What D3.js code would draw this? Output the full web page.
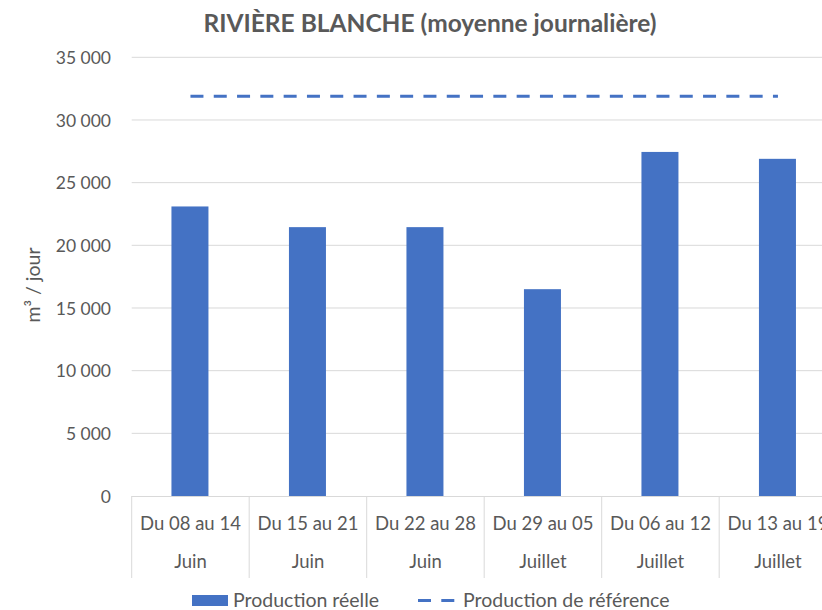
<!DOCTYPE html>
<html><head><meta charset="utf-8">
<script src="https://cdn.jsdelivr.net/npm/d3@7"></script>
<style>body{margin:0;background:#fff}svg{display:block}text{font-family:Lato,"Open Sans",sans-serif;fill:#595959}</style>
</head><body><svg id="c" width="822" height="610"></svg>
<script>
const periods = ["Du 08 au 14","Du 15 au 21","Du 22 au 28","Du 29 au 05","Du 06 au 12","Du 13 au 19"];
const months = ["Juin","Juin","Juin","Juillet","Juillet","Juillet"];
const reelle = [23100, 21450, 21450, 16500, 27450, 26900];
const reference = [31900, 31900, 31900, 31900, 31900, 31900];
const yTicks = [0,5000,10000,15000,20000,25000,30000,35000];
const title = "RIVIÈRE BLANCHE (moyenne journalière)";
const yTitle = "m³ / jour";
const legendLabels = ["Production réelle","Production de référence"];

(function(){
const svg = d3.select("#c");
const left = 131.7, bandW = 117.5, plotTop = 57.3, bottom = 496;
const x = d3.scaleBand().domain(d3.range(periods.length)).range([left, left + bandW*periods.length]).paddingInner(0).paddingOuter(0);
const y = d3.scaleLinear().domain([0,35000]).range([bottom, plotTop]);
const fmt = v => d3.format(",")(v).replace(/,/g, " ");
const blue = "#4472C4";

svg.append("g").selectAll("line").data(yTicks.filter(d=>d>0)).join("line")
  .attr("x1", left).attr("x2", 822).attr("y1", d=>y(d)).attr("y2", d=>y(d))
  .attr("stroke", "#d9d9d9").attr("stroke-width", 1);

const yAxis = d3.axisLeft(y).tickValues(yTicks).tickFormat(fmt).tickSize(0).tickPadding(0);
const ya = svg.append("g").attr("transform", `translate(111,0)`).call(yAxis);
ya.select(".domain").remove();
ya.selectAll("text").attr("font-size", 17.5).attr("fill", "#595959").style("font-family","Lato").attr("dy","0.36em");

const barW = 37;
svg.append("g").selectAll("rect").data(reelle).join("rect")
  .attr("x", (d,i)=> x(i) + bandW/2 - barW/2 - 0.5).attr("width", barW)
  .attr("y", d=>y(d)).attr("height", d=>bottom - y(d)).attr("fill", blue);

svg.append("line").attr("x1", left).attr("x2", 822).attr("y1", bottom+0.5).attr("y2", bottom+0.5).attr("stroke","#d9d9d9");
svg.append("g").selectAll("line").data(d3.range(periods.length+1)).join("line")
  .attr("x1", i=>left + i*bandW).attr("x2", i=>left + i*bandW)
  .attr("y1", bottom).attr("y2", 578).attr("stroke", "#d9d9d9");
const cat = svg.append("g");
cat.selectAll("text.p").data(periods).join("text").attr("class","p")
  .attr("x", (d,i)=>x(i)+bandW/2).attr("y", 530).attr("text-anchor","middle").attr("font-size",18.5).text(d=>d);
cat.selectAll("text.m").data(months).join("text").attr("class","m")
  .attr("x", (d,i)=>x(i)+bandW/2).attr("y", 568).attr("text-anchor","middle").attr("font-size",18.5).text(d=>d);

const line = d3.line().x((d,i)=>x(i)+bandW/2).y(d=>y(d));
svg.append("path").datum(reference).attr("d", line).attr("fill","none")
  .attr("stroke", blue).attr("stroke-width", 3).attr("stroke-dasharray","13,10.3");

svg.append("text").attr("x", 430).attr("y", 32).attr("text-anchor","middle")
  .attr("font-size", 24.5).attr("font-weight","bold").text(title);

svg.append("text").attr("transform","translate(40,285) rotate(-90)").attr("text-anchor","middle")
  .attr("font-size", 19.5).text(yTitle);

const lg = svg.append("g");
lg.append("rect").attr("x", 192).attr("y", 595).attr("width", 36).attr("height", 11).attr("fill", blue);
lg.append("text").attr("x", 233).attr("y", 607).attr("font-size", 19.5).text(legendLabels[0]);
lg.append("line").attr("x1", 418).attr("x2", 455).attr("y1", 600.5).attr("y2", 600.5)
  .attr("stroke", blue).attr("stroke-width", 3).attr("stroke-dasharray","13,10.3");
lg.append("text").attr("x", 463).attr("y", 607).attr("font-size", 19.5).text(legendLabels[1]);
})();
</script></body></html>
